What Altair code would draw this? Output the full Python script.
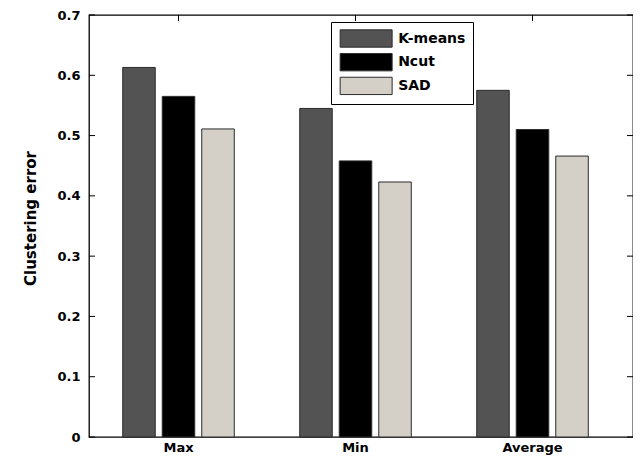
import altair as alt
import pandas as pd

categories = ["Max", "Min", "Average"]
methods = ["K-means", "Ncut", "SAD"]
kmeans = [0.613, 0.545, 0.575]
ncut = [0.565, 0.458, 0.510]
sad = [0.511, 0.423, 0.466]
colors = ["#535353", "#000000", "#d4d0c8"]
y_ticks = [0, 0.1, 0.2, 0.3, 0.4, 0.5, 0.6, 0.7]

rows = []
for m, vals in zip(methods, [kmeans, ncut, sad]):
    for c, v in zip(categories, vals):
        rows.append({"category": c, "method": m, "value": v})
df = pd.DataFrame(rows)
ticks_df = pd.DataFrame({"t": y_ticks})
cat_df = pd.DataFrame({"category": categories})

W, H = 544, 422
FONT = "DejaVu Sans"

xscale = alt.Scale(domain=categories, paddingInner=0.33, paddingOuter=0.2017, align=0.423)
yscale = alt.Scale(domain=[0, 0.7])

xaxis = alt.Axis(title="", labelAngle=0, ticks=False, tickSize=0, labelPadding=4,
                 domain=False, labelFont=FONT, labelFontWeight="bold",
                 labelFontSize=13, labelColor="black")
yaxis = alt.Axis(title="Clustering error", values=y_ticks, format=".1~f", ticks=False,
                 tickSize=0, grid=False, domain=False, labelPadding=9,
                 labelFont=FONT, labelFontWeight="bold", labelFontSize=13,
                 labelColor="black", titleFont=FONT, titleFontWeight="bold",
                 titleFontSize=15, titleColor="black", titlePadding=18, titleY=203)

bars = alt.Chart(df).mark_bar(stroke="#2b2b2b", strokeWidth=1).encode(
    x=alt.X("category:N", scale=xscale, sort=categories, axis=xaxis),
    xOffset=alt.XOffset("method:N", sort=methods,
                        scale=alt.Scale(domain=methods, paddingInner=0.177, paddingOuter=0.089)),
    y=alt.Y("value:Q", scale=yscale, axis=yaxis, title="Clustering error"),
    color=alt.Color("method:N", sort=methods,
                    scale=alt.Scale(domain=methods, range=colors),
                    legend=alt.Legend(title="", orient="none", legendX=242, legendY=7,
                                      direction="vertical",
                                      symbolType="M-3,-1H3V1H-3Z", symbolSize=300,
                                      symbolStrokeColor="#2b2b2b", symbolStrokeWidth=1,
                                      symbolOffset=18.65, labelOffset=22.5, rowPadding=0.7,
                                      padding=7, fillColor="white", strokeColor="black",
                                      labelFont=FONT, labelFontSize=14, labelFontWeight="bold",
                                      labelColor="black", symbolOpacity=1)),
)

left_ticks = alt.Chart(ticks_df).mark_rule(color="black", strokeWidth=1).encode(
    y=alt.Y("t:Q", scale=yscale, axis=yaxis, title="Clustering error"),
    x=alt.value(0), x2=alt.value(6))
right_ticks = alt.Chart(ticks_df).mark_rule(color="black", strokeWidth=1).encode(
    y=alt.Y("t:Q", scale=yscale, axis=yaxis, title="Clustering error"),
    x=alt.value(W - 6), x2=alt.value(W))
top_ticks = alt.Chart(cat_df).mark_rule(color="black", strokeWidth=1).encode(
    x=alt.X("category:N", scale=xscale, sort=categories, axis=xaxis, title=""),
    y=alt.value(0), y2=alt.value(6))

chart = alt.layer(left_ticks, right_ticks, top_ticks, bars).properties(
    width=W, height=H,
    autosize=alt.AutoSizeParams(type="none"),
    padding={"left": 81, "top": 7, "right": 0, "bottom": 18},
    background="white",
).configure_view(stroke="black", strokeWidth=1.3)

chart.save("out.html", embed_options={"renderer": "svg", "actions": False})
